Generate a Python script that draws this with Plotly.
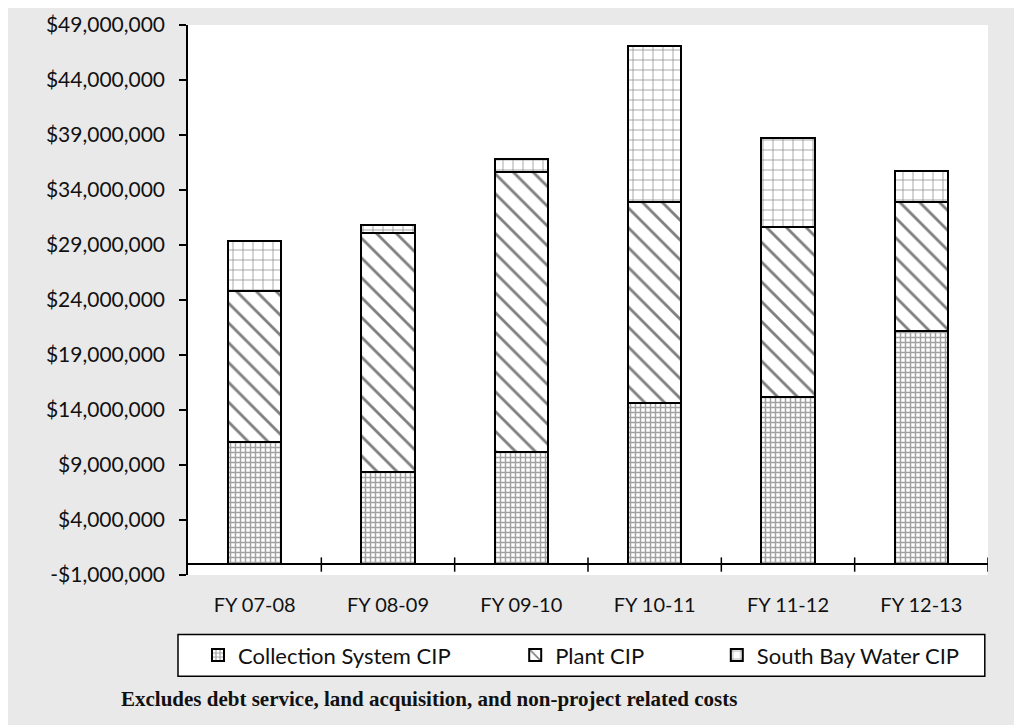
import plotly.graph_objects as go

categories = ["FY 07-08", "FY 08-09", "FY 09-10", "FY 10-11", "FY 11-12", "FY 12-13"]
collection_cip = [11.1e6, 8.4e6, 10.2e6, 14.6e6, 15.2e6, 21.2e6]
plant_cip = [13.7e6, 21.7e6, 25.4e6, 18.3e6, 15.4e6, 11.7e6]
south_bay_cip = [4.6e6, 0.7e6, 1.2e6, 14.2e6, 8.1e6, 2.8e6]
tick_vals = list(range(-1_000_000, 49_000_001, 5_000_000))
tick_text = [("-$" + f"{-v:,}") if v < 0 else ("$" + f"{v:,}") for v in tick_vals]
note = "Excludes debt service, land acquisition, and non-project related costs"

FONT = "Lato"
line = dict(color="black", width=2)

fig = go.Figure()
fig.add_trace(go.Bar(
    x=categories, y=collection_cip, name="Collection System CIP", legend="legend2",
    marker=dict(color="white", line=line,
                pattern=dict(shape="+", size=5, solidity=0.5, fgcolor="#444444", bgcolor="white")),
))
fig.add_trace(go.Bar(
    x=categories, y=plant_cip, name="Plant CIP", legend="legend3",
    marker=dict(color="white", line=line,
                pattern=dict(shape="\\", size=14, solidity=0.2, fgcolor="black", bgcolor="white")),
))
fig.add_trace(go.Bar(
    x=categories, y=south_bay_cip, name="South Bay Water CIP", legend="legend4",
    marker=dict(color="white", line=line,
                pattern=dict(shape="+", size=10, solidity=0.13, fgcolor="black", bgcolor="white")),
))

shapes = []
# category separator ticks on the zero line
for i in range(len(categories)):
    shapes.append(dict(type="line", xref="x", yref="y", x0=i + 0.5, x1=i + 0.5,
                       y0=-0.7e6, y1=0.6e6, line=dict(color="black", width=1.5)))
# legend frame
shapes.append(dict(type="rect", xref="paper", yref="paper", x0=-0.0125, x1=0.996,
                   y0=-0.184, y1=-0.108, line=dict(color="black", width=1.5),
                   fillcolor="white", layer="below"))

leg_common = dict(orientation="h", yanchor="middle", y=-0.146, xanchor="left",
                  bgcolor="rgba(0,0,0,0)", borderwidth=0,
                  font=dict(family=FONT, size=22, color="#111111"))

fig.update_layout(
    width=1014, height=717,
    barmode="stack", bargap=0.6,
    paper_bgcolor="#e9e9e9", plot_bgcolor="white",
    margin=dict(l=180, r=34, t=17, b=150, autoexpand=False),
    font=dict(family=FONT, size=20, color="#111111"),
    xaxis=dict(range=[-0.5, 5.5], showline=False, showgrid=False, ticks="",
               automargin=False,
               ticklabelstandoff=16, tickfont=dict(size=20)),
    yaxis=dict(range=[-1_000_000, 49_000_000], tickvals=tick_vals, ticktext=tick_text,
               automargin=False,
               showgrid=False, showline=True, linecolor="black", linewidth=1.5,
               ticks="outside", ticklen=7, tickcolor="black", tickwidth=1.5,
               ticklabelstandoff=10,
               zeroline=True, zerolinecolor="black", zerolinewidth=1.5,
               tickfont=dict(size=21)),
    showlegend=True,
    legend2=dict(x=0.0125, **leg_common),
    legend3=dict(x=0.409, **leg_common),
    legend4=dict(x=0.661, **leg_common),
    shapes=shapes,
    annotations=[dict(text="<b>" + note + "</b>", xref="paper", yref="paper",
                      x=-0.086, y=-0.225, xanchor="left", yanchor="middle",
                      showarrow=False,
                      font=dict(family="Liberation Serif", size=21, color="#111111"))],
)

fig.write_html("out.html")
